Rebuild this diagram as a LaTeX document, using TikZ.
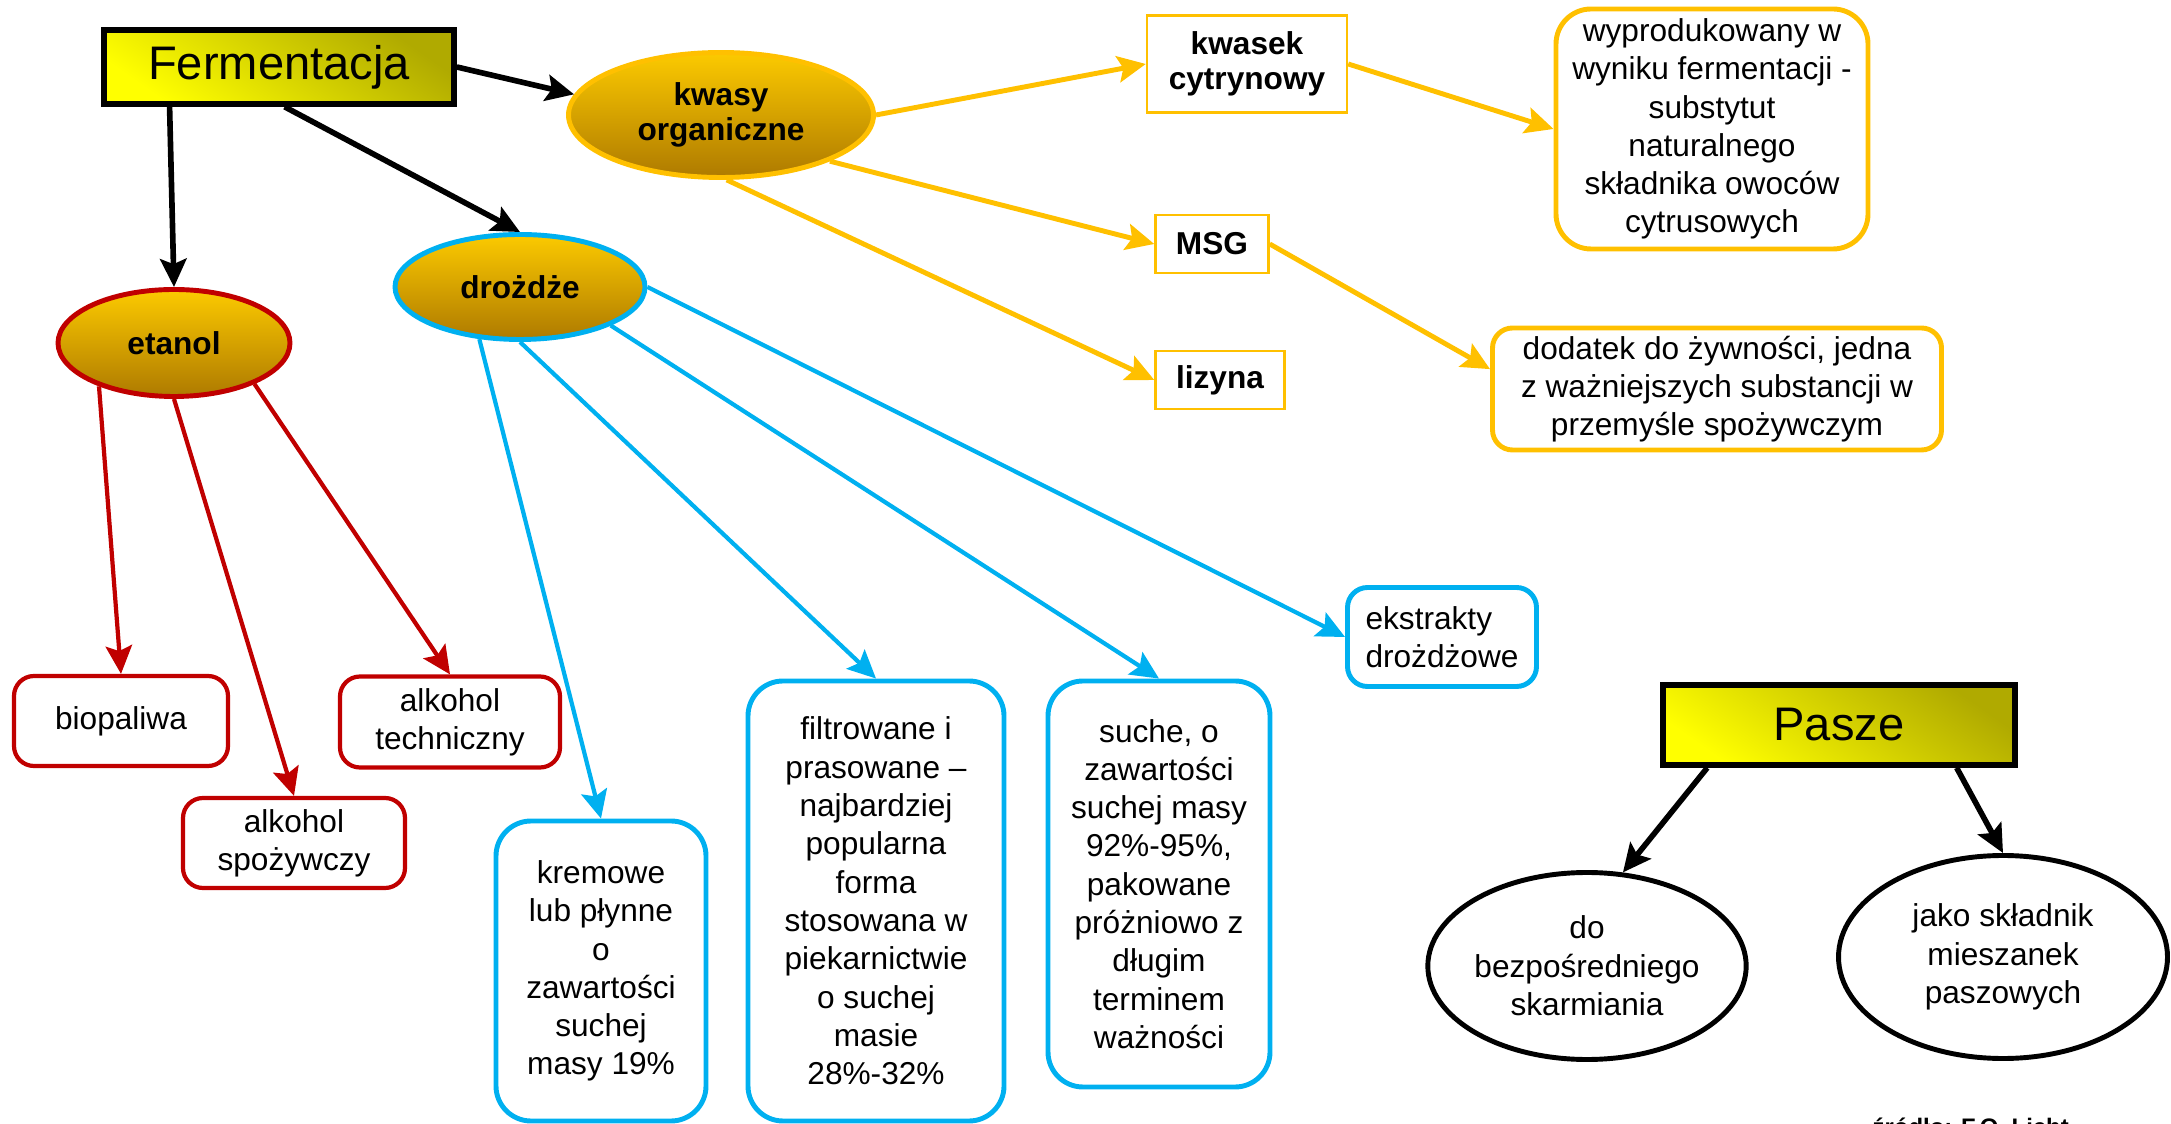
\documentclass[tikz,border=0pt]{standalone}
\usepackage{fontspec}
\setmainfont{Liberation Sans}
\usetikzlibrary{arrows.meta,shapes.geometric}
\definecolor{zloty}{RGB}{255,192,0}
\definecolor{niebieski}{RGB}{0,176,240}
\definecolor{czerwony}{RGB}{192,0,0}
\definecolor{jasnyzolty}{RGB}{255,255,0}
\definecolor{oliwka}{RGB}{176,170,0}
\definecolor{zlotygora}{RGB}{252,202,0}
\definecolor{zlotydol}{RGB}{174,122,0}

\begin{document}
\begin{tikzpicture}[>={Stealth[length=8pt,width=7.5pt,inset=1.5pt]},x=1cm,y=1cm,
	tekst/.style={font=\fontsize{9}{10.9}\selectfont,align=center,inner sep=0pt},
	glowny/.style={draw=black,line width=1.6pt,top color=oliwka,bottom color=jasnyzolty,shading angle=-35,font=\fontsize{13.4}{15}\selectfont,inner sep=0pt},
	owal/.style={ellipse,top color=zlotygora,bottom color=zlotydol,line width=1.4pt,font=\bfseries\fontsize{9}{10}\selectfont,align=center,inner sep=0pt},
	ramka/.style={draw=zloty,line width=0.7pt,fill=white,font=\bfseries\fontsize{9}{10}\selectfont,align=center,inner sep=0pt},
	opiszloty/.style={tekst,draw=zloty,line width=1.4pt,rounded corners=0.35cm},
	opisczerwony/.style={tekst,draw=czerwony,line width=1.2pt,rounded corners=0.2cm},
	opisniebieski/.style={tekst,draw=niebieski,line width=1.4pt,rounded corners=0.35cm},
	pasza/.style={tekst,ellipse,draw=black,line width=1.4pt},
	czarna/.style={->,black,line width=1.6pt},
	zlota/.style={->,zloty,line width=1.4pt},
	czerwona/.style={->,czerwony,line width=1.2pt},
	niebieska/.style={->,niebieski,line width=1.2pt}]
	\clip (0,0) rectangle (21.71,-11.24);
	% glowne
	\node[glowny,minimum width=3.5cm,minimum height=0.74cm] (ferm) at (2.79,-0.67) {Fermentacja};
	\node[glowny,minimum width=3.52cm,minimum height=0.8cm] (pasze) at (18.39,-7.25) {Pasze};
	% owale
	\node[owal,draw=zloty,minimum width=3.05cm,minimum height=1.25cm] (kwasy) at (7.21,-1.15) {kwasy\\organiczne};
	\node[owal,draw=niebieski,minimum width=2.5cm,minimum height=1.05cm] (drozdze) at (5.2,-2.87) {drożdże};
	\node[owal,draw=czerwony,minimum width=2.32cm,minimum height=1.07cm] (etanol) at (1.74,-3.43) {etanol};
	% kwasy organiczne
	\node[ramka,minimum width=2cm,minimum height=0.97cm] (kwasek) at (12.47,-0.64) {kwasek\\cytrynowy};
	\node[ramka,minimum width=1.13cm,minimum height=0.58cm] (msg) at (12.12,-2.44) {MSG};
	\node[ramka,minimum width=1.29cm,minimum height=0.58cm] (lizyna) at (12.2,-3.8) {lizyna};
	\node[opiszloty,minimum width=3.12cm,minimum height=2.4cm] (wyprod) at (17.12,-1.29) {wyprodukowany w\\wyniku fermentacji -\\substytut\\naturalnego\\składnika owoców\\cytrusowych};
	\node[opiszloty,rounded corners=0.2cm,minimum width=4.49cm,minimum height=1.22cm] (dodatek) at (17.17,-3.89) {dodatek do żywności, jedna\\z ważniejszych substancji w\\przemyśle spożywczym};
	% etanol
	\node[opisczerwony,minimum width=2.14cm,minimum height=0.9cm] (biopal) at (1.21,-7.21) {biopaliwa};
	\node[opisczerwony,minimum width=2.2cm,minimum height=0.91cm] (techn) at (4.5,-7.22) {alkohol\\techniczny};
	\node[opisczerwony,minimum width=2.22cm,minimum height=0.9cm] (spoz) at (2.94,-8.43) {alkohol\\spożywczy};
	% drozdze
	\node[opisniebieski,minimum width=2.1cm,minimum height=3cm] (kremowe) at (6.01,-9.71) {kremowe\\lub płynne\\o\\zawartości\\suchej\\masy 19\%};
	\node[opisniebieski,minimum width=2.56cm,minimum height=4.4cm] (filtr) at (8.76,-9.01) {filtrowane i\\prasowane –\\najbardziej\\popularna\\forma\\stosowana w\\piekarnictwie\\o suchej\\masie\\28\%-32\%};
	\node[opisniebieski,minimum width=2.22cm,minimum height=4.06cm] (suche) at (11.59,-8.84) {suche, o\\zawartości\\suchej masy\\92\%-95\%,\\pakowane\\próżniowo z\\długim\\terminem\\ważności};
	\node[opisniebieski,align=left,rounded corners=0.2cm,minimum width=1.89cm,minimum height=0.99cm] (ekstr) at (14.42,-6.37) {ekstrakty\\drożdżowe};
	% pasze
	\node[pasza,minimum width=3.16cm,minimum height=1.87cm] (bezp) at (15.87,-9.66) {do\\bezpośredniego\\skarmiania};
	\node[pasza,minimum width=3.29cm,minimum height=2.03cm] (jako) at (20.03,-9.57) {jako składnik\\mieszanek\\paszowych};
	\node[font=\bfseries\fontsize{6.8}{8}\selectfont,anchor=base west,inner sep=0pt] (zrodlo) at (18.72,-11.35) {źródło: F.O. Licht};
	% strzalki
	\draw[czarna] (ferm.east) -- (kwasy.172);
	\draw[czarna] (ferm.200.7) -- (etanol.north);
	\draw[czarna] (ferm.278) -- (drozdze.north);
	\draw[zlota] (kwasy.east) -- (kwasek.west);
	\draw[zlota] (kwasy.-23) -- (msg.west);
	\draw[zlota] (kwasy.-85) -- (lizyna.west);
	\draw[zlota] (kwasek.east) -- (wyprod.west);
	\draw[zlota] (msg.east) -- (dodatek.175);
	\draw[czerwona] (etanol.210) -- (biopal.north);
	\draw[czerwona] (etanol.south) -- (spoz.north);
	\draw[czerwona] (etanol.-27) -- (techn.north);
	\draw[niebieska] (drozdze.232) -- (kremowe.north);
	\draw[niebieska] (drozdze.south) -- (filtr.north);
	\draw[niebieska] (drozdze.-23) -- (suche.north);
	\draw[niebieska] (drozdze.east) -- (ekstr.west);
	\draw[czarna] (pasze.198) -- (bezp.69);
	\draw[czarna] (pasze.-20) -- (jako.north);
\end{tikzpicture}
\end{document}
